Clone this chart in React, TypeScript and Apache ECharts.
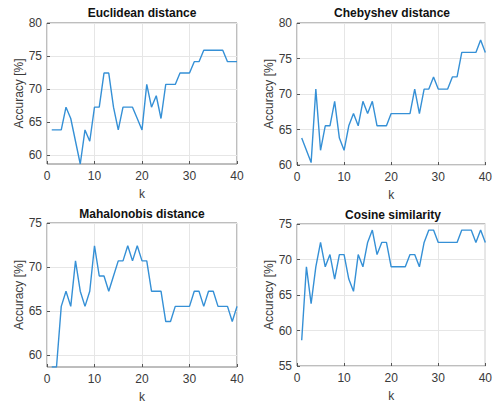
import { useEffect, useRef } from "react";
import * as echarts from "echarts";

const K = [1, 2, 3, 4, 5, 6, 7, 8, 9, 10, 11, 12, 13, 14, 15, 16, 17, 18, 19, 20,
  21, 22, 23, 24, 25, 26, 27, 28, 29, 30, 31, 32, 33, 34, 35, 36, 37, 38, 39, 40];

const EUCLIDEAN = [63.79, 63.79, 63.79, 67.24, 65.52, 62.07, 58.62, 63.79, 62.07, 67.24,
  67.24, 72.41, 72.41, 67.24, 63.79, 67.24, 67.24, 67.24, 65.52, 63.79,
  70.69, 67.24, 68.97, 65.52, 70.69, 70.69, 70.69, 72.41, 72.41, 72.41,
  74.14, 74.14, 75.86, 75.86, 75.86, 75.86, 75.86, 74.14, 74.14, 74.14];

const CHEBYSHEV = [63.79, 62.07, 60.34, 70.69, 62.07, 65.52, 65.52, 68.97, 63.79, 62.07,
  65.52, 67.24, 65.52, 68.97, 67.24, 68.97, 65.52, 65.52, 65.52, 67.24,
  67.24, 67.24, 67.24, 67.24, 70.69, 67.24, 70.69, 70.69, 72.41, 70.69,
  70.69, 70.69, 72.41, 72.41, 75.86, 75.86, 75.86, 75.86, 77.59, 75.86];

const MAHALANOBIS = [58.62, 58.62, 65.52, 67.24, 65.52, 70.69, 67.24, 65.52, 67.24, 72.41,
  68.97, 68.97, 67.24, 68.97, 70.69, 70.69, 72.41, 70.69, 72.41, 70.69,
  70.69, 67.24, 67.24, 67.24, 63.79, 63.79, 65.52, 65.52, 65.52, 65.52,
  67.24, 67.24, 65.52, 67.24, 67.24, 65.52, 65.52, 65.52, 63.79, 65.52];

const COSINE = [58.62, 68.97, 63.79, 68.97, 72.41, 68.97, 70.69, 67.24, 70.69, 70.69,
  67.24, 65.52, 70.69, 68.97, 72.41, 74.14, 70.69, 72.41, 72.41, 68.97,
  68.97, 68.97, 68.97, 70.69, 70.69, 68.97, 72.41, 74.14, 74.14, 72.41,
  72.41, 72.41, 72.41, 72.41, 74.14, 74.14, 74.14, 72.41, 74.14, 72.41];

const TITLES = ["Euclidean distance", "Chebyshev distance", "Mahalonobis distance", "Cosine similarity"];
const SERIES = [EUCLIDEAN, CHEBYSHEV, MAHALANOBIS, COSINE];
const Y_MIN = [58.62, 60, 58.62, 55];
const Y_MAX = [80, 80, 75, 75];
const Y_TICKS = [
  [60, 65, 70, 75, 80],
  [60, 65, 70, 75, 80],
  [60, 65, 70, 75],
  [55, 60, 65, 70, 75],
];
const X_TICKS = [0, 10, 20, 30, 40];
const X_NAME = "k";
const Y_NAME = "Accuracy [%]";

const GRIDS = [
  { left: 47, top: 23, width: 190, height: 141 },
  { left: 297, top: 23, width: 190, height: 142 },
  { left: 47, top: 223, width: 190, height: 144 },
  { left: 297, top: 224, width: 190, height: 142 },
];
const TITLE_POS = [
  { x: 142, y: 13 },
  { x: 392, y: 13 },
  { x: 142, y: 214 },
  { x: 393, y: 215 },
];

const FONT = "'Liberation Sans', Arial, sans-serif";
const TEXT_COLOR = "#3a3a3a";
const LINE_COLOR = "#3590d6";

export default function App() {
  const ref = useRef<HTMLDivElement>(null);

  useEffect(() => {
    document.body.style.margin = "0";
    if (!ref.current) return;
    const chart = echarts.init(ref.current, undefined, { renderer: "svg" });

    const grid = GRIDS.map((g) => ({
      ...g,
      show: true,
      borderColor: "#7d7d7d",
      borderWidth: 1,
      backgroundColor: "#ffffff",
      containLabel: false,
    }));

    const xAxis = GRIDS.map((_, i) => ({
      type: "value",
      gridIndex: i,
      min: 0,
      max: 40,
      interval: 10,
      name: X_NAME,
      nameLocation: "middle",
      nameGap: 24,
      nameTextStyle: { fontSize: 12, color: TEXT_COLOR, fontFamily: FONT },
      axisLine: { show: false },
      axisTick: { show: true, inside: true, length: 3, lineStyle: { color: "#555" }, customValues: X_TICKS },
      axisLabel: { fontSize: 12, color: TEXT_COLOR, fontFamily: FONT, margin: 6, customValues: X_TICKS },
      splitLine: { show: true, lineStyle: { color: "#e6e6e6", width: 1 } },
    }));

    const yAxis = GRIDS.map((_, i) => ({
      type: "value",
      gridIndex: i,
      min: Y_MIN[i],
      max: Y_MAX[i],
      name: Y_NAME,
      nameLocation: "middle",
      nameGap: 21,
      nameTextStyle: { fontSize: 12, color: TEXT_COLOR, fontFamily: FONT },
      axisLine: { show: false },
      axisTick: { show: true, inside: true, length: 3, lineStyle: { color: "#555" }, customValues: Y_TICKS[i] },
      axisLabel: { fontSize: 12, color: TEXT_COLOR, fontFamily: FONT, margin: 5, customValues: Y_TICKS[i] },
      splitLine: { show: true, lineStyle: { color: "#e6e6e6", width: 1 } },
    }));

    const series = SERIES.map((vals, i) => ({
      type: "line",
      xAxisIndex: i,
      yAxisIndex: i,
      showSymbol: false,
      symbol: "none",
      lineStyle: { color: LINE_COLOR, width: 1.4 },
      data: K.map((k, j) => [k, vals[j]]),
    }));

    const graphic = TITLES.map((t, i) => ({
      type: "text",
      x: TITLE_POS[i].x,
      y: TITLE_POS[i].y,
      style: {
        text: t,
        fontSize: 12,
        fontWeight: "bold",
        fontFamily: FONT,
        fill: "#111111",
        textAlign: "center",
        textVerticalAlign: "middle",
      },
    }));

    chart.setOption({
      animation: false,
      backgroundColor: "#ffffff",
      grid,
      xAxis,
      yAxis,
      series,
      graphic,
    });

    return () => chart.dispose();
  }, []);

  return <div ref={ref} style={{ width: 495, height: 404 }} />;
}
